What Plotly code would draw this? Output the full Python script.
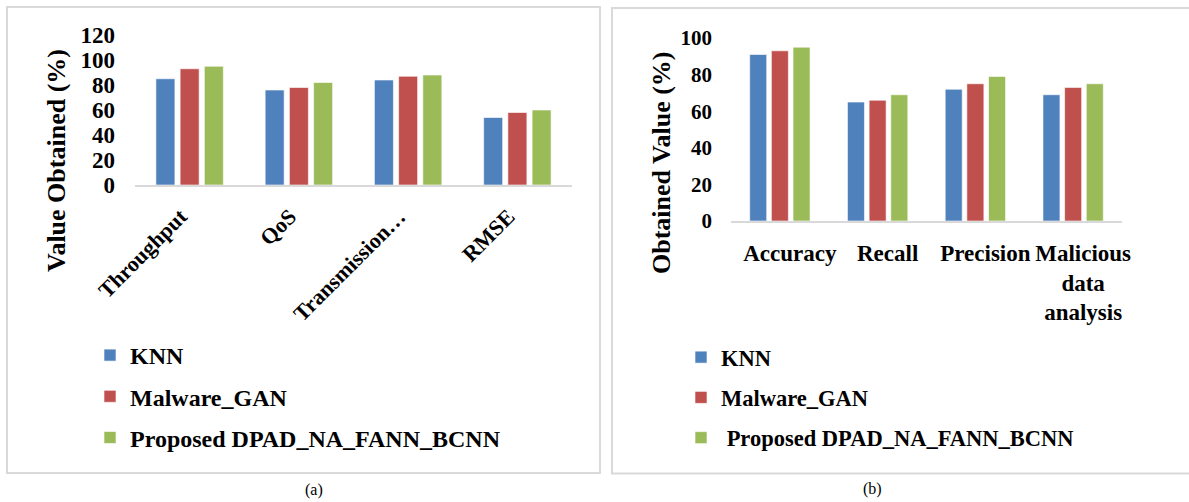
import plotly.graph_objects as go

# ---------------- data ----------------
series_names = ["KNN", "Malware_GAN", "Proposed DPAD_NA_FANN_BCNN"]
series_names_b = ["KNN", "Malware_GAN", " Proposed DPAD_NA_FANN_BCNN"]
series_colors = ["#4F81BD", "#C0504D", "#9BBB59"]

left_categories = ["Throughput", "QoS", "Transmission…", "RMSE"]
left_knn = [85, 76, 84, 54]
left_gan = [93, 78, 87, 58]
left_proposed = [95, 82, 88, 60]
left_ticks = [0, 20, 40, 60, 80, 100, 120]

right_categories = ["Accuracy", "Recall", "Precision", "Malicious<br>data<br>analysis"]
right_knn = [91, 65, 72, 69]
right_gan = [93, 66, 75, 73]
right_proposed = [95, 69, 79, 75]
right_ticks = [0, 20, 40, 60, 80, 100]

W, H = 1189, 502
FONT = "Liberation Serif"


def px_x(v):
    return v / W


def px_y(v):
    return 1 - v / H


fig = go.Figure()

left_vals = [left_knn, left_gan, left_proposed]
right_vals = [right_knn, right_gan, right_proposed]

for i in range(3):
    fig.add_trace(go.Bar(
        x=left_categories, y=left_vals[i], name=series_names[i],
        marker=dict(color=series_colors[i], line=dict(color="rgba(255,255,255,0.6)", width=1)),
        xaxis="x", yaxis="y", legend="legend", legendgroup="a%d" % i,
        hoverinfo="y+name",
    ))
for i in range(3):
    fig.add_trace(go.Bar(
        x=right_categories, y=right_vals[i], name=series_names_b[i],
        marker=dict(color=series_colors[i], line=dict(color="rgba(255,255,255,0.6)", width=1)),
        xaxis="x2", yaxis="y2", legend="legend2", legendgroup="b%d" % i,
        hoverinfo="y+name",
    ))

axis_line = dict(showline=True, linecolor="#D9D9D9", linewidth=2)

fig.update_layout(
    template="none",
    width=W, height=H, autosize=False,
    margin=dict(l=0, r=0, t=0, b=0, pad=0),
    paper_bgcolor="white", plot_bgcolor="white",
    barmode="group", bargap=0.335, bargroupgap=0.215,
    font=dict(family=FONT, color="black"),
    xaxis=dict(domain=[px_x(135), px_x(572)], anchor="y", tickangle=-45, automargin=False,
               tickfont=dict(family=FONT, size=22, weight="bold", color="black"),
               ticks="", showgrid=False, zeroline=False, ticklabelstandoff=8,
               ticklabelshift=-9, **axis_line),
    yaxis=dict(domain=[px_y(185), px_y(35)], anchor="x", range=[0, 120], automargin=False,
               tickvals=left_ticks, ticks="", showgrid=False, zeroline=False, showline=False,
               tickfont=dict(family=FONT, size=23, weight="bold", color="black"),
               ticklabelstandoff=19),
    xaxis2=dict(domain=[px_x(731), px_x(1122)], anchor="y2", tickangle=0, automargin=False,
                tickfont=dict(family=FONT, size=23, weight="bold", color="black"),
                ticks="", showgrid=False, zeroline=False, ticklabelstandoff=10,
                ticklabelshift=10, **axis_line),
    yaxis2=dict(domain=[px_y(221), px_y(38)], anchor="x2", range=[0, 100], automargin=False,
                tickvals=right_ticks, ticks="", showgrid=False, zeroline=False, showline=False,
                tickfont=dict(family=FONT, size=21, weight="bold", color="black"),
                ticklabelstandoff=18),
    legend=dict(x=px_x(90), y=px_y(333), xanchor="left", yanchor="top",
                font=dict(family=FONT, size=24, weight="bold", color="black"),
                bgcolor="rgba(0,0,0,0)", tracegroupgap=7, traceorder="grouped"),
    legend2=dict(x=px_x(681), y=px_y(336), xanchor="left", yanchor="top",
                 font=dict(family=FONT, size=22.5, weight="bold", color="black"),
                 bgcolor="rgba(0,0,0,0)", tracegroupgap=8, traceorder="grouped"),
    showlegend=True,
)

# panel borders
fig.add_shape(type="rect", xref="paper", yref="paper",
              x0=px_x(7), x1=px_x(600), y0=px_y(473), y1=px_y(7),
              line=dict(color="#D9D9D9", width=2), layer="below")
fig.add_shape(type="rect", xref="paper", yref="paper",
              x0=px_x(612), x1=px_x(1195), y0=px_y(473.5), y1=px_y(8),
              line=dict(color="#D9D9D9", width=2), layer="below")

# y-axis titles
fig.add_annotation(text="<b>Value Obtained (%)</b>", xref="paper", yref="paper",
                   x=px_x(57), y=px_y(161), textangle=-90, showarrow=False,
                   font=dict(family=FONT, size=26, color="black"),
                   xanchor="center", yanchor="middle")
fig.add_annotation(text="<b>Obtained Value (%)</b>", xref="paper", yref="paper",
                   x=px_x(662), y=px_y(163), textangle=-90, showarrow=False,
                   font=dict(family=FONT, size=26, color="black"),
                   xanchor="center", yanchor="middle")

# captions
fig.add_annotation(text="(a)", xref="paper", yref="paper", x=px_x(314), y=px_y(490),
                   showarrow=False, font=dict(family=FONT, size=16, color="black"),
                   xanchor="center", yanchor="middle")
fig.add_annotation(text="(b)", xref="paper", yref="paper", x=px_x(872), y=px_y(489),
                   showarrow=False, font=dict(family=FONT, size=16, color="black"),
                   xanchor="center", yanchor="middle")

fig.write_html("out.html", config={"displayModeBar": False},
               post_script="document.body.style.margin='0';document.body.style.overflow='hidden';")
